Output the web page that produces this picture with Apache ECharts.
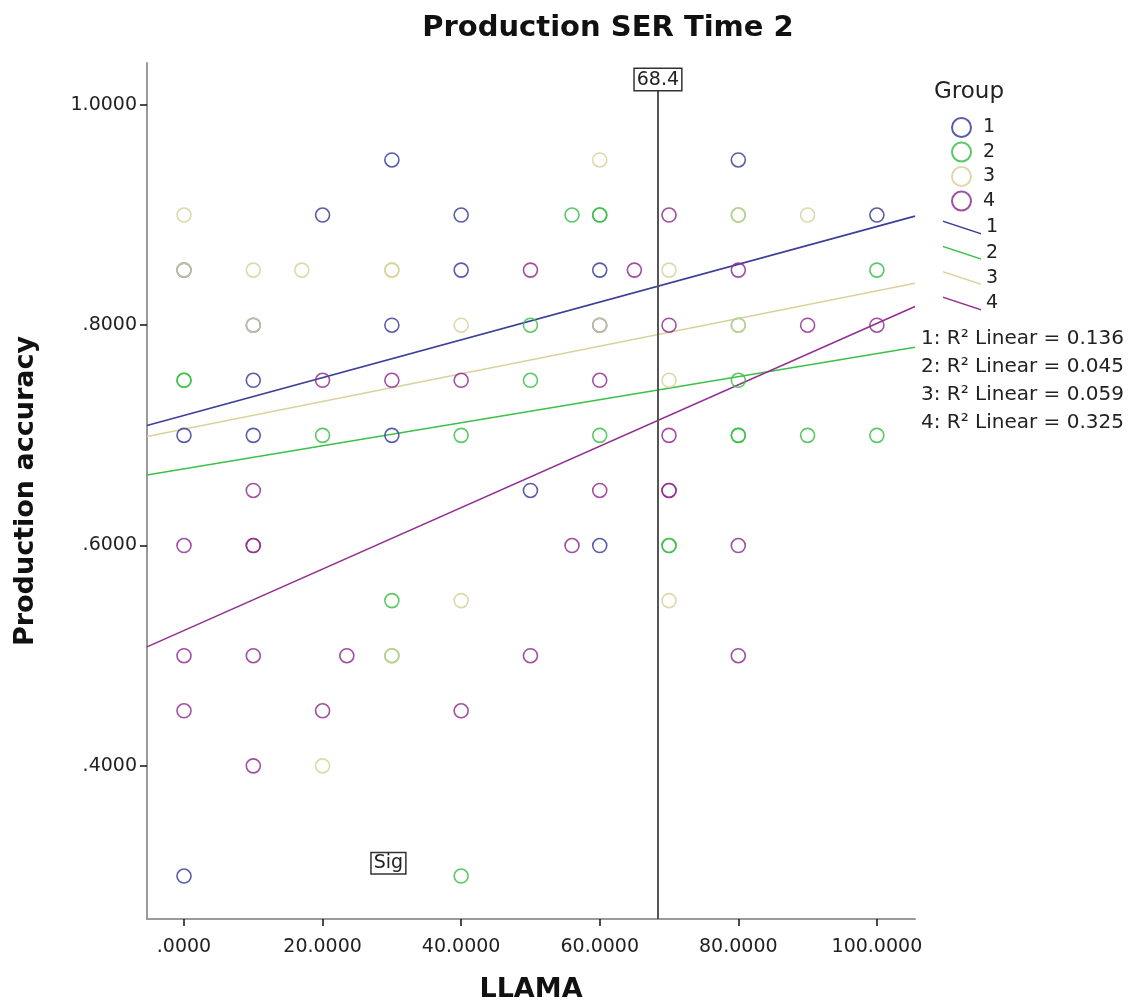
<!DOCTYPE html>
<html>
<head>
<meta charset="utf-8">
<script src="https://cdn.jsdelivr.net/npm/echarts@6/dist/echarts.min.js"></script>
<style>
  html, body { margin: 0; padding: 0; background: #fff; }
  #container { width: 1139px; height: 1008px; }
</style>
</head>
<body>
<div id="container"></div>
<script>
// group scatter points [LLAMA, accuracy]
const group1 = [[30,0.95],[80,0.95],[20,0.90],[40,0.90],[100,0.90],[0,0.85],[40,0.85],[60,0.85],
  [10,0.80],[30,0.80],[60,0.80],[10,0.75],[0,0.70],[10,0.70],[30,0.70],[50,0.65],[60,0.60],[0,0.30]];
const group2 = [[56,0.90],[60,0.90],[60,0.90],[80,0.90],[100,0.85],[50,0.80],[80,0.80],[0,0.75],[0,0.75],
  [50,0.75],[80,0.75],[20,0.70],[40,0.70],[60,0.70],[80,0.70],[80,0.70],[90,0.70],[100,0.70],
  [70,0.60],[70,0.60],[30,0.55],[30,0.50],[40,0.30]];
const group3 = [[60,0.95],[0,0.90],[80,0.90],[90,0.90],[0,0.85],[10,0.85],[17,0.85],[30,0.85],[30,0.85],
  [70,0.85],[10,0.80],[40,0.80],[60,0.80],[80,0.80],[70,0.75],[40,0.55],[70,0.55],[30,0.50],[20,0.40]];
const group4 = [[70,0.90],[50,0.85],[65,0.85],[80,0.85],[70,0.80],[90,0.80],[100,0.80],[20,0.75],
  [30,0.75],[40,0.75],[60,0.75],[70,0.70],[10,0.65],[60,0.65],[70,0.65],[70,0.65],[0,0.60],[10,0.60],
  [10,0.60],[56,0.60],[80,0.60],[0,0.50],[10,0.50],[23.5,0.50],[50,0.50],[80,0.50],[0,0.45],[20,0.45],
  [40,0.45],[10,0.40]];

// fit line values read at the left and right edges of the plot
const fitStart = [0.709, 0.664, 0.699, 0.508];
const fitEnd = [0.899, 0.780, 0.838, 0.817];
const r2Values = ['0.136', '0.045', '0.059', '0.325'];

const groupNames = ['1', '2', '3', '4'];
const colors = ['#3c3f98', '#3cc04a', '#d8d29e', '#922f90'];

const xMin = -5.34, xMax = 105.5;
const yMin = 0.261, yMax = 1.038;
const xTicks = [0, 20, 40, 60, 80, 100];
const yTicks = [0.4, 0.6, 0.8, 1.0];
const refX = 68.4;

const dom = document.getElementById('container');
const myChart = echarts.init(dom, null, { renderer: 'canvas' });

const fmt = v => v.toFixed(4).replace(/^0/, '');
const groups = [group1, group2, group3, group4];

const scatterSeries = groups.map((g, i) => ({
  name: groupNames[i],
  type: 'scatter',
  symbol: 'circle',
  symbolSize: 14,
  itemStyle: { color: 'rgba(255,255,255,0)', borderColor: colors[i], borderWidth: 1.6, opacity: 0.85 },
  data: g,
  z: 3
}));

const fitSeries = groups.map((g, i) => ({
  name: 'L' + groupNames[i],
  type: 'line',
  showSymbol: false,
  symbol: 'none',
  color: colors[i],
  lineStyle: { color: colors[i], width: 1.6 },
  data: [[xMin, fitStart[i]], [xMax, fitEnd[i]]],
  z: 2
}));

const fontFam = '"DejaVu Sans", sans-serif';

let option = {
  animation: false,
  title: [
    {
      text: 'Production SER Time 2',
      left: 603, top: 9, textAlign: 'center',
      textStyle: { fontSize: 29, fontWeight: 'bold', fontFamily: fontFam, color: '#111' }
    },
    {
      text: 'Group',
      left: 929, top: 76,
      textStyle: { fontSize: 23, fontWeight: 'normal', fontFamily: fontFam, color: '#222' }
    },
    {
      text: r2Values.map((v, i) => groupNames[i] + ': R² Linear = ' + v).join('\n'),
      left: 916, top: 320,
      textStyle: { fontSize: 20, fontWeight: 'normal', fontFamily: fontFam, color: '#222', lineHeight: 28 }
    }
  ],
  legend: [
    {
      data: groupNames,
      orient: 'vertical',
      left: 946, top: 112,
      itemWidth: 19, itemHeight: 19, itemGap: 3.5,
      icon: 'circle',
      textStyle: { fontSize: 19, fontFamily: fontFam, color: '#222', padding: [0, 0, 0, 7] }
    },
    {
      data: groupNames.map(n => 'L' + n),
      orient: 'vertical',
      left: 938, top: 213,
      itemWidth: 38, itemHeight: 14, itemGap: 6.3,
      icon: 'path://M0,0 L38,12.5 L38,14 L0,1.5 Z',
      formatter: name => name.slice(1),
      textStyle: { fontSize: 19, fontFamily: fontFam, color: '#222' }
    }
  ],
  grid: { left: 147, right: 224, top: 63, bottom: 88 },
  xAxis: {
    type: 'value',
    min: xMin, max: xMax,
    name: 'LLAMA',
    nameLocation: 'middle',
    nameGap: 57,
    nameTextStyle: { fontSize: 27, fontWeight: 'bold', fontFamily: fontFam, color: '#111' },
    axisLine: { show: true, onZero: false, lineStyle: { color: '#9a9a9a', width: 2 } },
    axisTick: { show: true, length: 7, customValues: xTicks, lineStyle: { color: '#111', width: 1.5 } },
    axisLabel: { customValues: xTicks, formatter: fmt, fontSize: 19, fontFamily: fontFam, color: '#222', margin: 19 },
    splitLine: { show: false }
  },
  yAxis: {
    type: 'value',
    min: yMin, max: yMax,
    name: 'Production accuracy',
    nameLocation: 'middle',
    nameGap: 108,
    nameTextStyle: { fontSize: 27, fontWeight: 'bold', fontFamily: fontFam, color: '#111' },
    axisLine: { show: true, onZero: false, lineStyle: { color: '#9a9a9a', width: 2 } },
    axisTick: { show: true, length: 7, customValues: yTicks, lineStyle: { color: '#111', width: 1.5 } },
    axisLabel: { customValues: yTicks, formatter: fmt, fontSize: 19, fontFamily: fontFam, color: '#222', margin: 10 },
    splitLine: { show: false }
  },
  series: [
    ...scatterSeries,
    ...fitSeries,
    {
      name: 'ref',
      type: 'scatter',
      data: [],
      markLine: {
        silent: true,
        symbol: 'none',
        lineStyle: { color: '#555', width: 2, type: 'solid' },
        label: {
          show: true,
          position: 'end',
          distance: 0,
          formatter: String(refX),
          fontSize: 19, fontFamily: fontFam, color: '#222',
          backgroundColor: '#fff', borderColor: '#333', borderWidth: 1.5,
          padding: [2, 2, 0, 2]
        },
        data: [[{ coord: [refX, yMin] }, { coord: [refX, 1.0136] }]]
      },
      markPoint: {
        silent: true,
        symbol: 'rect',
        symbolSize: 1,
        itemStyle: { color: 'rgba(0,0,0,0)' },
        label: {
          show: true,
          formatter: 'Sig',
          fontSize: 19, fontFamily: fontFam, color: '#222',
          backgroundColor: '#fff', borderColor: '#333', borderWidth: 1.5,
          padding: [1, 2, 0, 2]
        },
        data: [{ coord: [29.5, 0.3115] }]
      }
    }
  ]
};

if (option && typeof option === 'object') {
  myChart.setOption(option);
}

window.addEventListener('resize', myChart.resize);
</script>
</body>
</html>
